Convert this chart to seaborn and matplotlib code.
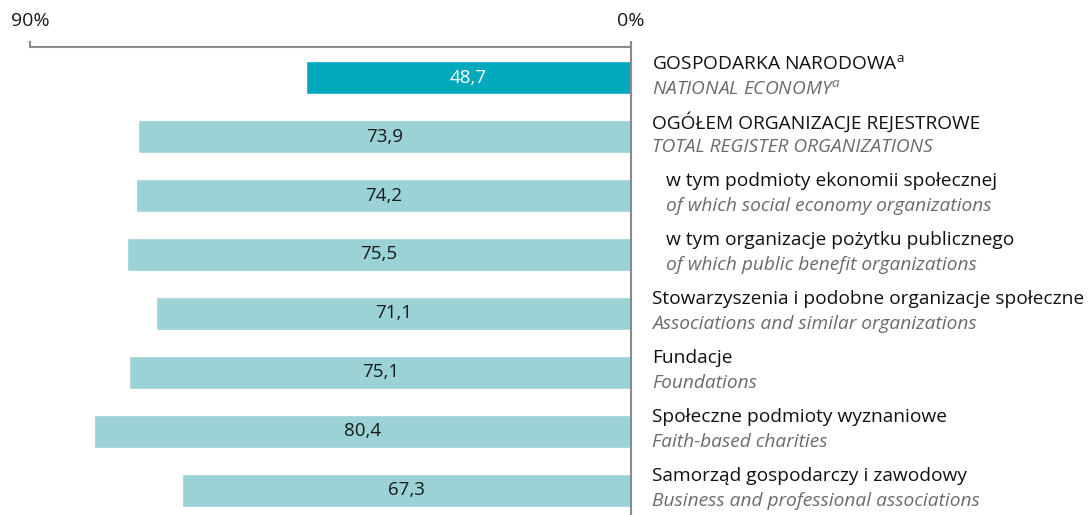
import matplotlib
matplotlib.use("Agg")
import matplotlib.pyplot as plt
import seaborn as sns
import pandas as pd

# --- data ---
labels_pl = ["GOSPODARKA NARODOWA$^{\\mathrm{a}}$",
             "OGÓŁEM ORGANIZACJE REJESTROWE",
             "w tym podmioty ekonomii społecznej",
             "w tym organizacje pożytku publicznego",
             "Stowarzyszenia i podobne organizacje społeczne",
             "Fundacje",
             "Społeczne podmioty wyznaniowe",
             "Samorząd gospodarczy i zawodowy"]
labels_en = ["NATIONAL ECONOMY$^{a}$",
             "TOTAL REGISTER ORGANIZATIONS",
             "of which social economy organizations",
             "of which public benefit organizations",
             "Associations and similar organizations",
             "Foundations",
             "Faith-based charities",
             "Business and professional associations"]
values = [48.7, 73.9, 74.2, 75.5, 71.1, 75.1, 80.4, 67.3]
indented = [False, False, True, True, False, False, False, False]

sns.set_style("white")
plt.rcParams['font.family'] = ['Open Sans', 'DejaVu Sans']
plt.rcParams['mathtext.fontset'] = 'custom'
plt.rcParams['mathtext.rm'] = 'Open Sans'
plt.rcParams['mathtext.it'] = 'Open Sans:italic'

df = pd.DataFrame({"cat": [str(i) for i in range(len(values))], "value": values})
colors = ["#00a9bc"] + ["#9ad2d6"] * (len(values) - 1)

fig = plt.figure(figsize=(10.88, 5.15), dpi=100)
ax = fig.add_axes([30 / 1088, 0, 601 / 1088, 468 / 515])

sns.barplot(data=df, x="value", y="cat", hue="cat", palette=colors, legend=False,
            orient="h", width=0.56, saturation=1, ax=ax)

ax.set_xlim(90, 0)
ax.set_ylim(7.42, -0.52)
ax.set_xlabel("")
ax.set_ylabel("")
ax.set_yticks([])

for s in ["left", "bottom"]:
    ax.spines[s].set_visible(False)
for s in ["top", "right"]:
    ax.spines[s].set_visible(True)
    ax.spines[s].set_color("#8a8a8a")
    ax.spines[s].set_linewidth(1.5)

ax.xaxis.tick_top()
ax.set_xticks([90, 0])
ax.set_xticklabels(["90%", "0%"])
ax.tick_params(axis="x", top=True, bottom=False, length=4.5, width=1.5,
               color="#8a8a8a", pad=8, labelsize=14, labelcolor="#1a1a1a")

# value labels inside bars
for i, v in enumerate(values):
    ax.text(v / 2, i, f"{v:.1f}".replace(".", ","), ha="center", va="center",
            fontsize=13.5, color="white" if i == 0 else "#1a1a1a")

# category labels on the right
tr = ax.get_yaxis_transform()
for i in range(len(values)):
    x = 1.0583 if indented[i] else 1.035
    ax.text(x, i - 0.24, labels_pl[i], transform=tr, ha="left", va="center",
            fontsize=13.8, color="#111111", clip_on=False)
    ax.text(x, i + 0.185, labels_en[i], transform=tr, ha="left", va="center",
            fontsize=13.8, color="#6b6b6b", style="italic", clip_on=False)

fig.savefig("out.png", dpi=100)
